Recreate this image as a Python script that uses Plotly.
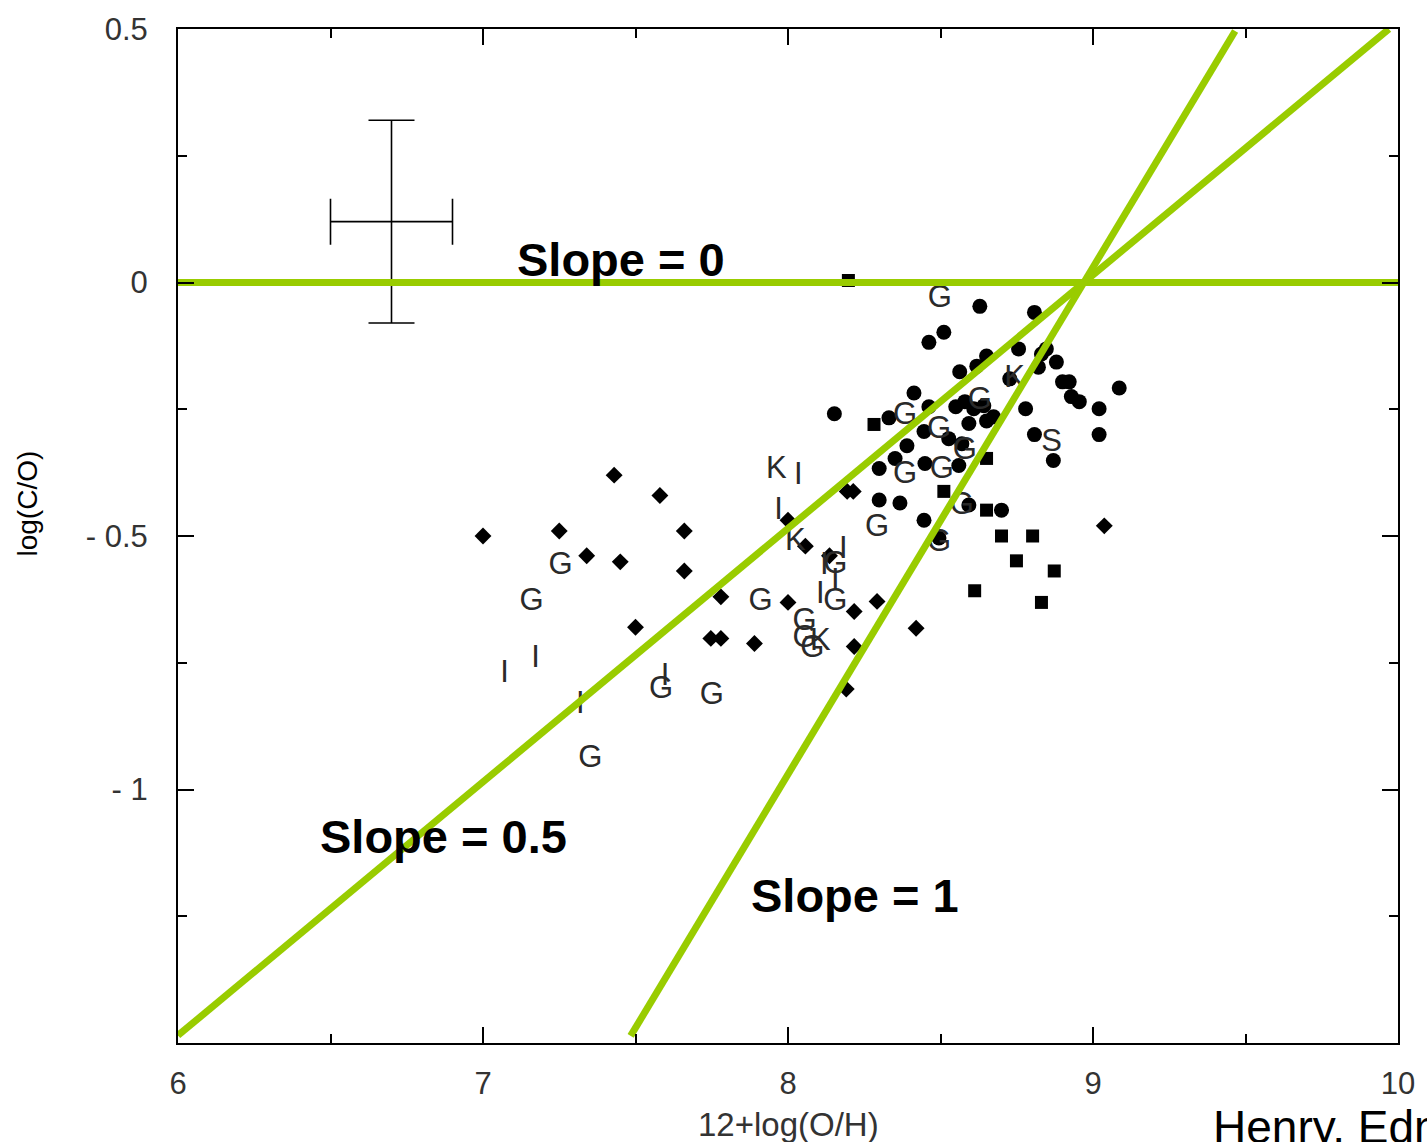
import plotly.graph_objects as go

# ---------------- data ----------------
diamond_x = [7.00, 7.43, 7.58, 7.25, 7.66, 7.34, 7.45, 7.66, 7.50, 7.78, 7.747, 7.78, 7.89,
             8.00, 8.00, 8.057, 8.194, 8.214, 8.136, 8.217, 8.292, 8.42, 8.217, 8.191, 9.037]
diamond_y = [-0.500, -0.380, -0.420, -0.490, -0.490, -0.539, -0.551, -0.569, -0.680, -0.620, -0.702, -0.702, -0.712,
             -0.631, -0.469, -0.520, -0.412, -0.412, -0.539, -0.649, -0.629, -0.682, -0.718, -0.802, -0.480]

square_x = [8.198, 8.282, 8.651, 8.511, 8.651, 8.700, 8.802, 8.749, 8.873, 8.612, 8.831]
square_y = [0.004, -0.280, -0.347, -0.412, -0.449, -0.500, -0.500, -0.549, -0.569, -0.608, -0.631]

circle_x = [8.629, 8.808, 8.511, 8.462, 8.756, 8.651, 8.619, 8.563, 8.831, 8.880, 8.821, 8.847,
            8.727, 8.900, 8.922, 9.086, 8.929, 8.955, 9.020, 9.020, 8.808, 8.870, 8.779, 8.413,
            8.152, 8.331, 8.462, 8.550, 8.580, 8.609, 8.642, 8.651, 8.674, 8.593, 8.446, 8.527,
            8.570, 8.390, 8.351, 8.449, 8.560, 8.299, 8.299, 8.367, 8.593, 8.700, 8.446, 8.495]
circle_y = [-0.047, -0.059, -0.098, -0.118, -0.131, -0.145, -0.165, -0.176, -0.141, -0.157, -0.167, -0.131,
            -0.190, -0.196, -0.196, -0.208, -0.225, -0.235, -0.249, -0.300, -0.300, -0.351, -0.249, -0.218,
            -0.259, -0.267, -0.245, -0.245, -0.235, -0.249, -0.243, -0.273, -0.265, -0.278, -0.294, -0.308,
            -0.318, -0.322, -0.347, -0.357, -0.361, -0.367, -0.429, -0.435, -0.439, -0.449, -0.469, -0.504]

letter_x = [8.498, 8.384, 8.495, 8.384, 8.504, 8.629, 8.580, 8.292, 8.570, 8.495, 7.254, 7.159,
            7.910, 8.155, 8.155, 8.054, 8.054, 8.080, 7.584, 7.750, 7.352,
            8.106, 7.962, 8.024, 8.743, 8.864,
            7.597, 7.071, 7.172, 7.319, 8.034, 7.969, 8.181, 8.119, 8.155, 8.106]
letter_y = [-0.033, -0.263, -0.292, -0.380, -0.371, -0.235, -0.333, -0.484, -0.441, -0.514, -0.559, -0.631,
            -0.631, -0.557, -0.631, -0.671, -0.704, -0.724, -0.804, -0.816, -0.941,
            -0.710, -0.371, -0.512, -0.190, -0.318,
            -0.778, -0.773, -0.743, -0.833, -0.382, -0.451, -0.529, -0.559, -0.592, -0.616]
letter_text = ["G"] * 21 + ["K", "K", "K", "K", "S"] + ["I"] * 10

# typical error bar
err_x, err_y = [6.70], [0.12]
err_dx, err_dy = 0.2, 0.2

# reference slope lines through common pivot
pivot_x = 8.97
slopes = [0.0, 0.5, 1.0]
slope_x_ranges = [[6.0, 10.0], [6.0, 9.97], [7.484, 9.466]]
slope_labels = ["Slope = 0", "Slope = 0.5", "Slope = 1"]
slope_label_pos = [(7.104, 0.045), (6.46, -1.092), (7.871, -1.21)]

x_tickvals = [6, 7, 8, 9, 10]
x_ticktext = ["6", "7", "8", "9", "10"]
y_tickvals = [0.5, 0, -0.5, -1]
y_ticktext = ["0.5", "0", "- 0.5", "- 1"]

GREEN = "rgb(153,204,0)"
FONT = "Liberation Sans, Arial, sans-serif"

fig = go.Figure()

fig.add_trace(go.Scatter(x=diamond_x, y=diamond_y, mode="markers",
                         marker=dict(symbol="diamond", size=13, color="black"), showlegend=False))
fig.add_trace(go.Scatter(x=square_x, y=square_y, mode="markers",
                         marker=dict(symbol="square", size=13, color="black"), showlegend=False))
fig.add_trace(go.Scatter(x=circle_x, y=circle_y, mode="markers",
                         marker=dict(symbol="circle", size=15, color="black"), showlegend=False))
fig.add_trace(go.Scatter(x=letter_x, y=letter_y, mode="text", text=letter_text,
                         textposition="middle center",
                         textfont=dict(family=FONT, size=31, color="#2a2a2a"), showlegend=False))

fig.add_trace(go.Scatter(x=err_x, y=err_y, mode="markers",
                         marker=dict(size=1, color="black", opacity=0),
                         error_x=dict(type="constant", value=err_dx, color="black", thickness=1.6, width=23),
                         error_y=dict(type="constant", value=err_dy, color="black", thickness=1.6, width=23),
                         showlegend=False))

for s, xr in zip(slopes, slope_x_ranges):
    ys = [s * (xv - pivot_x) for xv in xr]
    fig.add_trace(go.Scatter(x=xr, y=ys, mode="lines",
                             line=dict(color=GREEN, width=7), showlegend=False))

for lab, (lx, ly) in zip(slope_labels, slope_label_pos):
    fig.add_annotation(x=lx, y=ly, xref="x", yref="y", text="<b>%s</b>" % lab,
                       showarrow=False, xanchor="left", yanchor="middle",
                       font=dict(family=FONT, size=47, color="black"))

fig.add_annotation(xref="paper", yref="paper", x=0.5, y=-0.0804, text="12+log(O/H)",
                   showarrow=False, xanchor="center", yanchor="middle",
                   font=dict(family=FONT, size=33, color="#333"))
fig.add_annotation(xref="paper", yref="paper", x=-0.123, y=0.532, text="log(C/O)",
                   showarrow=False, textangle=-90, xanchor="center", yanchor="middle",
                   font=dict(family=FONT, size=28, color="black"))
fig.add_annotation(xref="paper", yref="paper", x=0.8465, y=-0.055, text="Henry, Edmunds &amp; Köppen 2000",
                   showarrow=False, xanchor="left", yanchor="top",
                   font=dict(family=FONT, size=46, color="black"))

axis_common = dict(showgrid=False, zeroline=False, showline=True, linecolor="black", linewidth=2,
                   mirror="ticks", ticks="inside", tickcolor="black", tickwidth=2, ticklen=16,
                   tickfont=dict(family=FONT, size=31, color="#333"))

fig.update_xaxes(range=[6, 10], tickvals=x_tickvals, ticktext=x_ticktext,
                 minor=dict(dtick=0.5, ticks="inside", ticklen=9, tickcolor="black", tickwidth=2),
                 ticklabelstandoff=12, **axis_common)
fig.update_yaxes(range=[-1.5, 0.5], tickvals=y_tickvals, ticktext=y_ticktext,
                 minor=dict(dtick=0.25, ticks="inside", ticklen=9, tickcolor="black", tickwidth=2),
                 ticklabelstandoff=22, **axis_common)

fig.update_layout(width=1427, height=1142, margin=dict(l=178, r=24, t=23, b=99),
                  paper_bgcolor="white", plot_bgcolor="white", showlegend=False)

fig.write_html("out.html")
